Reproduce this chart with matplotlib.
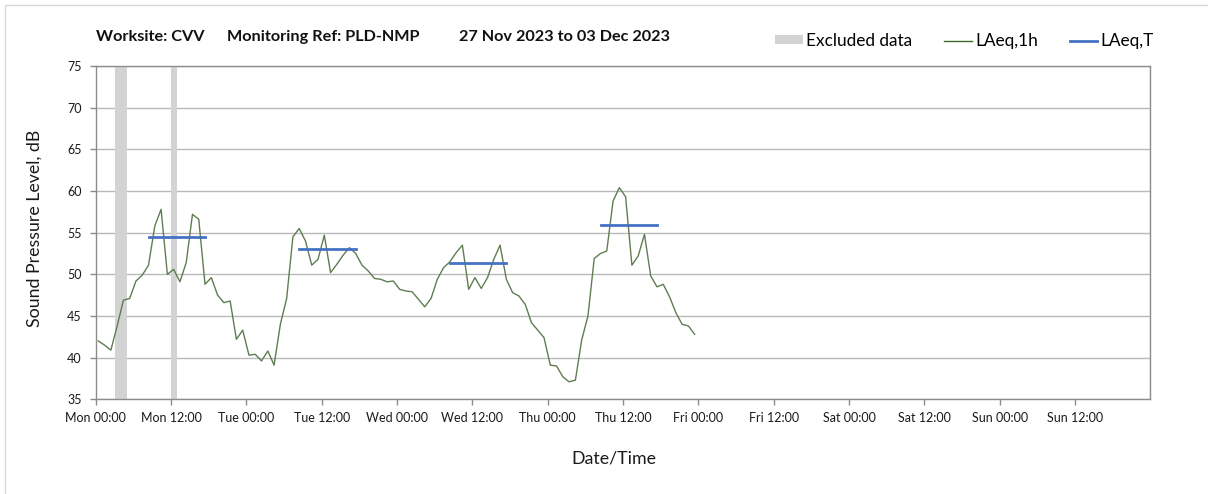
import matplotlib
matplotlib.use("Agg")
import matplotlib.pyplot as plt
import matplotlib.dates as mdates
from matplotlib.patches import Patch, Rectangle
from matplotlib.lines import Line2D
import numpy as np
import pandas as pd

# ---------------- data ----------------
start = pd.Timestamp("2023-11-27 00:00")
# hourly LAeq,1h values (dB) from Mon 00:00 to Thu 23:00
laeq_1h = [
    42.0, 41.5, 40.9, 43.8, 46.9, 47.1, 49.2, 49.9, 51.1, 55.8, 57.8, 50.0,
    50.6, 49.1, 51.4, 57.2, 56.6, 48.8, 49.6, 47.5, 46.6, 46.8, 42.2, 43.3,
    40.3, 40.4, 39.6, 40.8, 39.1, 44.0, 47.1, 54.5, 55.5, 54.0, 51.1, 51.8,
    54.7, 50.2, 51.2, 52.3, 53.2, 52.5, 51.1, 50.4, 49.5, 49.4, 49.1, 49.2,
    48.2, 48.0, 47.9, 47.0, 46.1, 47.1, 49.4, 50.8, 51.5, 52.6, 53.5, 48.2,
    49.6, 48.3, 49.6, 51.8, 53.5, 49.4, 47.8, 47.4, 46.4, 44.2, 43.3, 42.4,
    39.1, 39.0, 37.7, 37.1, 37.3, 42.1, 45.0, 51.9, 52.5, 52.8, 58.8, 60.4,
    59.3, 51.1, 52.2, 54.8, 49.8, 48.5, 48.8, 47.3, 45.4, 44.0, 43.8, 42.8,
]
# daytime LAeq,T per day (dB)
laeqT_days = ["2023-11-27", "2023-11-28", "2023-11-29", "2023-11-30"]
laeqT_values = [54.5, 53.0, 51.3, 55.9]
# excluded data periods
excluded_start = ["2023-11-27 03:00", "2023-11-27 12:00"]
excluded_end = ["2023-11-27 05:00", "2023-11-27 13:00"]
# x tick labels (every 12 h)
tick_labels = ["Mon 00:00", "Mon 12:00", "Tue 00:00", "Tue 12:00", "Wed 00:00",
               "Wed 12:00", "Thu 00:00", "Thu 12:00", "Fri 00:00", "Fri 12:00",
               "Sat 00:00", "Sat 12:00", "Sun 00:00", "Sun 12:00"]

# ---------------- style ----------------
plt.rcParams['font.family'] = ['Lato', 'DejaVu Sans']
GREEN = '#5f7d51'
BLUE = '#4472C4'
GREY_BAR = '#d3d3d3'

W, H = 1208, 494
fig = plt.figure(figsize=(W / 100, H / 100), dpi=100)
ax = fig.add_axes([95.7 / W, 1 - 399.3 / H, (1150.3 - 95.7) / W, (399.3 - 66) / H])

# figure border
fig.patches.append(Rectangle((5 / W, -0.1), 1.2, 1 - 5 / H + 0.1, transform=fig.transFigure,
                             fill=False, edgecolor='#d9d9d9', linewidth=1.0, zorder=0))

# excluded bars
for s, e in zip(excluded_start, excluded_end):
    ax.axvspan(pd.Timestamp(s), pd.Timestamp(e), color=GREY_BAR, lw=0, zorder=1)

# LAeq,1h line (points plotted at 25 min past each hour)
times = [start + pd.Timedelta(hours=i, minutes=25) for i in range(len(laeq_1h))]
ax.plot(times, laeq_1h, color=GREEN, lw=1.0, zorder=3)

# LAeq,T daytime segments (08:00-17:00 periods)
for d, v in zip(laeqT_days, laeqT_values):
    t0 = pd.Timestamp(d) + pd.Timedelta(hours=8, minutes=25)
    t1 = pd.Timestamp(d) + pd.Timedelta(hours=17, minutes=25)
    ax.plot([t0, t1], [v, v], color=BLUE, lw=2.0, solid_capstyle='projecting', zorder=4)

# axes
ax.set_xlim(start, start + pd.Timedelta(days=7))
ax.set_ylim(35, 75)
ax.set_yticks(np.arange(35, 76, 5))
ticks = [start + pd.Timedelta(hours=12 * i) for i in range(len(tick_labels))]
ax.set_xticks(ticks)
ax.set_xticklabels(tick_labels)
ax.xaxis.set_minor_locator(mdates.DayLocator())
ax.grid(axis='y', color='#b9b9b9', lw=1.0, zorder=2)
ax.grid(axis='x', which='minor', color='#e0e0e0', lw=1.0, zorder=2)
ax.tick_params(axis='x', which='minor', length=0)
ax.tick_params(axis='both', which='major', length=4, width=1.0, color='#8c8c8c',
               labelsize=9, labelcolor='#1a1a1a', pad=5)
ax.tick_params(axis='y', pad=6)
for sp in ax.spines.values():
    sp.set_color('#8c8c8c')
    sp.set_linewidth(1.0)
ax.set_axisbelow(True)

ax.set_ylabel("Sound Pressure Level, dB", fontsize=12.8, color='#1a1a1a')
ax.yaxis.set_label_coords((35 - 95.7) / (1150.3 - 95.7), (399.3 - 228) / (399.3 - 66))
ax.set_xlabel("Date/Time", fontsize=12.8, color='#1a1a1a')
ax.xaxis.set_label_coords((614 - 95.7) / (1150.3 - 95.7), -(458 - 399.3) / (399.3 - 66))
ax.yaxis.label.set_va('center')
ax.xaxis.label.set_va('center')

# title pieces
ty = 1 - 37 / H
tkw = dict(fontsize=11.7, fontweight='bold', va='center', color='#111111')
fig.text(96 / W, ty, "Worksite: CVV", **tkw)
fig.text(227 / W, ty, "Monitoring Ref: PLD-NMP", **tkw)
fig.text(459 / W, ty, "27 Nov 2023 to 03 Dec 2023", **tkw)

# legend
handles = [Patch(facecolor=GREY_BAR, edgecolor='none'),
           Line2D([], [], color='#3f6a2a', lw=1.0),
           Line2D([], [], color=BLUE, lw=2.0)]
fig.legend(handles, ["Excluded data", "LAeq,1h", "LAeq,T"], ncol=3,
           loc='center left', bbox_to_anchor=(775 / W, 1 - 41 / H), frameon=False,
           fontsize=12.4, handlelength=1.6, handleheight=0.4, handletextpad=0.2,
           columnspacing=1.85, borderaxespad=0, borderpad=0)

fig.savefig("out.png", dpi=100)
